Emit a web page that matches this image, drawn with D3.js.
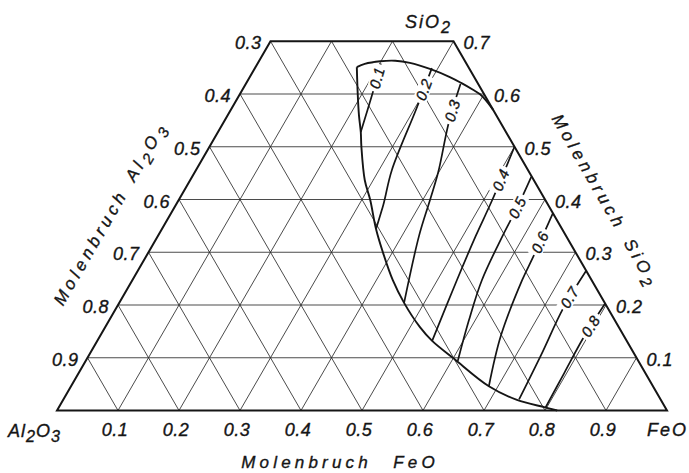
<!DOCTYPE html>
<html>
<head>
<meta charset="utf-8">
<script src="https://cdn.jsdelivr.net/npm/d3@7"></script>
<style>
  body { margin: 0; background: #fff; }
  svg text { font-family: "Liberation Sans", Arial, sans-serif; font-style: italic; fill: #151515;
             stroke: #151515; stroke-width: 0.35px; }
</style>
</head>
<body>
<svg id="chart" width="689" height="473"></svg>
<script>
// Compositions are [x(FeO), x(SiO2)] mole fractions; x(Al2O3) = 1 - x(FeO) - x(SiO2).

// Grid and tick values
const gridSteps = [0.1, 0.2, 0.3, 0.4, 0.5, 0.6, 0.7, 0.8, 0.9];
const sio2Max = 0.7;
const feoTicks = [0.1, 0.2, 0.3, 0.4, 0.5, 0.6, 0.7, 0.8, 0.9];
const al2o3Ticks = [0.3, 0.4, 0.5, 0.6, 0.7, 0.8, 0.9];
const sio2Ticks = [0.1, 0.2, 0.3, 0.4, 0.5, 0.6, 0.7];

// Boundary of the liquid field: upper branch (to the FeO–SiO2 side) and lower branch (to the base)
const boundaryUpper = [
  [0.166, 0.651], [0.176, 0.657], [0.199, 0.662], [0.223, 0.663], [0.249, 0.659],
  [0.289, 0.647], [0.328, 0.632], [0.352, 0.621], [0.378, 0.608], [0.393, 0.600],
  [0.408, 0.589], [0.430, 0.570]
];
const boundaryLower = [
  [0.166, 0.651], [0.193, 0.600], [0.215, 0.560], [0.234, 0.528], [0.249, 0.500],
  [0.286, 0.437], [0.314, 0.399], [0.351, 0.344], [0.385, 0.299], [0.427, 0.247],
  [0.467, 0.204], [0.516, 0.158], [0.549, 0.132], [0.602, 0.098], [0.685, 0.046],
  [0.744, 0.020], [0.797, 0.006], [0.820, 0.000]
];

// Lines of equal FeO activity
const isoLevels = [0.1, 0.2, 0.3, 0.4, 0.5, 0.6, 0.7, 0.8];
const iso01 = [[0.202, 0.658], [0.215, 0.608], [0.234, 0.528]];
const iso02 = [[0.290, 0.649], [0.303, 0.573], [0.321, 0.456], [0.340, 0.390], [0.351, 0.344]];
const iso03 = [[0.352, 0.619], [0.369, 0.547], [0.399, 0.452], [0.412, 0.399], [0.428, 0.331], [0.467, 0.204]];
const iso04 = [[0.500, 0.500], [0.514, 0.399], [0.521, 0.331], [0.532, 0.247], [0.549, 0.132]];
const iso05 = [[0.556, 0.443], [0.562, 0.384], [0.565, 0.331], [0.573, 0.247], [0.590, 0.170], [0.610, 0.094]];
const iso06 = [[0.626, 0.374], [0.635, 0.292], [0.639, 0.247], [0.657, 0.141], [0.685, 0.046]];
const iso07 = [[0.735, 0.266], [0.733, 0.194], [0.741, 0.105], [0.747, 0.021]];
const iso08 = [[0.797, 0.203], [0.794, 0.137], [0.796, 0.071], [0.798, 0.005]];
const isoLines = [iso01, iso02, iso03, iso04, iso05, iso06, iso07, iso08];

// ---- layout ----
const svg = d3.select("#chart");
const x = d3.scaleLinear().domain([0, 1]).range([57, 667]);      // horizontal: x(FeO) + x(SiO2)/2
const y = d3.scaleLinear().domain([0, 1]).range([410.5, -117]);  // vertical: x(SiO2)
const pt = ([f, s]) => [x(f + s / 2), y(s)];
const fmt = d3.format(".1f");
const ink = "#151515";

// grid
const gridSegs = [];
gridSteps.filter(s => s < sio2Max - 1e-9).forEach(s => gridSegs.push([[0, s], [1 - s, s]]));
gridSteps.forEach(f => { const sm = Math.min(1 - f, sio2Max); gridSegs.push([[f, 0], [f, sm]]); });
gridSteps.forEach(a => { const sm = Math.min(1 - a, sio2Max); gridSegs.push([[1 - a, 0], [1 - a - sm, sm]]); });

svg.append("g")
  .attr("stroke", "#2a2a2a").attr("stroke-width", 0.85)
  .selectAll("line").data(gridSegs).join("line")
  .attr("x1", d => pt(d[0])[0]).attr("y1", d => pt(d[0])[1])
  .attr("x2", d => pt(d[1])[0]).attr("y2", d => pt(d[1])[1]);

// truncated triangle outline
const frame = [[0, 0], [1, 0], [1 - sio2Max, sio2Max], [0, sio2Max]];
svg.append("path")
  .attr("d", d3.line()(frame.map(pt)) + "Z")
  .attr("fill", "none").attr("stroke", ink).attr("stroke-width", 2)
  .attr("stroke-linejoin", "miter");

// field boundary
const smooth = d3.line().curve(d3.curveCatmullRom.alpha(0.5));
[boundaryUpper, boundaryLower].forEach(b => {
  svg.append("path").attr("d", smooth(b.map(pt)))
    .attr("fill", "none").attr("stroke", ink).attr("stroke-width", 1.9);
});

// iso-activity lines
const isoPaths = isoLines.map(l =>
  svg.append("path").attr("d", smooth(l.map(pt)))
    .attr("fill", "none").attr("stroke", ink).attr("stroke-width", 1.7).node()
);

// labels on the iso-activity lines, measured along each line from its upper end
const labelAt = [15, 23, 28, 36, 34, 32, 32, 27];
const labelG = svg.append("g");
isoPaths.forEach((p, i) => {
  const d = labelAt[i];
  const c = p.getPointAtLength(d);
  const a = p.getPointAtLength(Math.max(0, d - 3));
  const b = p.getPointAtLength(d + 3);
  // text reads upwards along the line
  const ang = Math.atan2(a.y - b.y, a.x - b.x) * 180 / Math.PI;
  const g = labelG.append("g").attr("transform", `translate(${c.x},${c.y}) rotate(${ang})`);
  const bg = g.append("rect").attr("fill", "#fff");
  const t = g.append("text")
    .attr("text-anchor", "middle").attr("dy", "0.36em")
    .attr("font-size", 15).attr("letter-spacing", 0.3).text(fmt(isoLevels[i]));
  const bb = t.node().getBBox();
  bg.attr("x", bb.x - 3).attr("y", -7).attr("width", bb.width + 6).attr("height", 14);
});

// tick labels
const tickSize = 18;
svg.append("g").selectAll("text").data(feoTicks).join("text")
  .attr("x", d => x(d) - 3).attr("y", 436)
  .attr("text-anchor", "middle").attr("font-size", tickSize).attr("letter-spacing", 0.5)
  .text(fmt);

svg.append("g").selectAll("text").data(al2o3Ticks).join("text")
  .attr("x", d => pt([0, 1 - d])[0] - 9).attr("y", d => pt([0, 1 - d])[1] + 8)
  .attr("text-anchor", "end").attr("font-size", tickSize).attr("letter-spacing", 0.5)
  .text(fmt);

svg.append("g").selectAll("text").data(sio2Ticks).join("text")
  .attr("x", d => pt([1 - d, d])[0] + 10).attr("y", d => pt([1 - d, d])[1] + 8)
  .attr("text-anchor", "start").attr("font-size", tickSize).attr("letter-spacing", 0.5)
  .text(fmt);

// chemical formula with lowered digits
function formula(sel, parts, size) {
  let low = false;
  parts.forEach(p => {
    const isDigit = /^[0-9]$/.test(p);
    const ts = sel.append("tspan").text(p);
    if (isDigit && !low) { ts.attr("dy", 5).attr("font-size", size * 0.9); low = true; }
    else if (!isDigit && low) { ts.attr("dy", -5); low = false; }
    else if (isDigit) ts.attr("font-size", size * 0.9);
  });
  return sel;
}

// corner labels
formula(svg.append("text").attr("x", 8).attr("y", 437).attr("font-size", 18).attr("letter-spacing", 1),
  ["Al", "2", "O", "3"], 18);
formula(svg.append("text").attr("x", 647).attr("y", 436).attr("font-size", 18).attr("letter-spacing", 2),
  ["Fe", "O"], 18);
formula(svg.append("text").attr("x", 405).attr("y", 28).attr("font-size", 18).attr("letter-spacing", 2),
  ["Si", "O", "2"], 18);

// axis titles
const titleSize = 17, titleSpacing = 4.2;
const bottomTitle = svg.append("text").attr("x", 340).attr("y", 468)
  .attr("text-anchor", "middle").attr("font-size", titleSize).attr("letter-spacing", titleSpacing)
  .text("Molenbruch\u2003FeO");

const leftTitle = svg.append("text")
  .attr("transform", "translate(110,213) rotate(-60)")
  .attr("text-anchor", "middle").attr("dy", "0.36em")
  .attr("font-size", titleSize).attr("letter-spacing", titleSpacing);
leftTitle.append("tspan").text("Molenbruch ");
formula(leftTitle.append("tspan").attr("dx", 4), ["Al", "2", "O", "3"], titleSize);

const rightTitle = svg.append("text")
  .attr("transform", "translate(606,201) rotate(60)")
  .attr("text-anchor", "middle").attr("dy", "0.36em")
  .attr("font-size", titleSize).attr("letter-spacing", titleSpacing);
rightTitle.append("tspan").text("Molenbruch ");
formula(rightTitle.append("tspan").attr("dx", 4), ["Si", "O", "2"], titleSize);
</script>
</body>
</html>
